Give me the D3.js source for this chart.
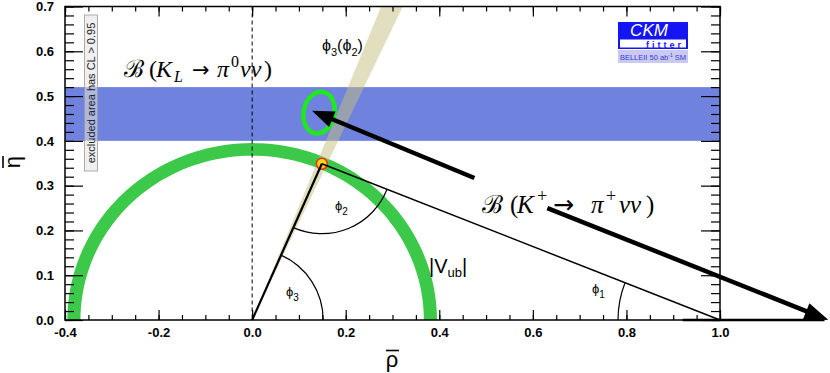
<!DOCTYPE html>
<html lang="en">
<head>
  <meta charset="UTF-8">
  <title>CKM fit - rho bar / eta bar plane</title>
  <script src="https://d3js.org/d3.v7.min.js"></script>
  <style>
    body { margin: 0; background: #fff; }
    svg { display: block; }
    .tick text { font-family: "Liberation Sans", Arial, sans-serif; font-weight: bold; font-size: 13px; fill: #000; }
    .tick line { stroke: #000; stroke-width: 1.2; }
    .axis path { display: none; }
  </style>
</head>
<body>
<div id="chart"></div>
<script>
// ---- data ----
const xTicksMajor = [-0.4, -0.2, 0.0, 0.2, 0.4, 0.6, 0.8, 1.0];
const yTicksMajor = [0.0, 0.1, 0.2, 0.3, 0.4, 0.5, 0.6, 0.7];
const xMinorStep = 0.05;
const yMinorStep = 0.02;

const klBand = [0.40, 0.52];            // eta range of B(K_L -> pi0 nu nu)
const vubRing = [0.367, 0.395];         // |Vub| ring radii
const phi3Band = [65.3, 68.5];          // phi3 wedge, degrees
const apex = [0.149, 0.349];            // (rho, eta) SM apex
const kplusCenter = [0.143, 0.463];     // B(K+ -> pi+ nu nu) ellipse centre
const kplusRadii = [0.033, 0.047];
const kplusTilt = 12;
const arrowKL = [[0.475, 0.317], [0.128, 0.467]];
const arrowKplus = [[0.631, 0.250], [1.232, 0.0]];
const baseExtension = [0.92, 1.232];

const W = 830, H = 373;
const x = d3.scaleLinear().domain([-0.4, 1.0]).range([65, 720]);
const y = d3.scaleLinear().domain([0, 0.7]).range([320, 6.5]);

const svg = d3.select("#chart").append("svg").attr("width", W).attr("height", H);

svg.append("defs").append("clipPath").attr("id", "plot")
  .append("rect").attr("x", x(-0.4)).attr("y", y(0.7))
  .attr("width", x(1.0) - x(-0.4)).attr("height", y(0) - y(0.7));

const plot = svg.append("g").attr("clip-path", "url(#plot)");

// K_L band
plot.append("rect")
  .attr("x", x(-0.4)).attr("width", x(1.0) - x(-0.4))
  .attr("y", y(klBand[1])).attr("height", y(klBand[0]) - y(klBand[1]))
  .attr("fill", "#6f83de");

// |Vub| ring
const angles = d3.range(0, 181, 2).map(a => a * Math.PI / 180);
const outer = angles.map(a => [vubRing[1] * Math.cos(a), vubRing[1] * Math.sin(a)]);
const inner = angles.slice().reverse().map(a => [vubRing[0] * Math.cos(a), vubRing[0] * Math.sin(a)]);
const poly = d3.line().x(d => x(d[0])).y(d => y(d[1]));
plot.append("path")
  .attr("d", poly(outer.concat(inner)) + "Z")
  .attr("fill", "#3cc94a");

// phi3 wedge
const wedge = [[0, 0],
  [0.7 / Math.tan(phi3Band[0] * Math.PI / 180), 0.7],
  [0.7 / Math.tan(phi3Band[1] * Math.PI / 180), 0.7]];
plot.append("path")
  .attr("d", poly(wedge) + "Z")
  .attr("fill", "#c4bf80").attr("opacity", 0.5);

// dashed rho = 0
plot.append("line")
  .attr("x1", x(0)).attr("x2", x(0)).attr("y1", y(0.7)).attr("y2", y(0))
  .attr("stroke", "#000").attr("stroke-width", 1).attr("stroke-dasharray", "4,3");

// K+ ellipse
plot.append("ellipse")
  .attr("cx", 0).attr("cy", 0)
  .attr("rx", x(kplusRadii[0]) - x(0)).attr("ry", y(0) - y(kplusRadii[1]))
  .attr("transform", `translate(${x(kplusCenter[0])},${y(kplusCenter[1])}) rotate(${kplusTilt})`)
  .attr("fill", "none").attr("stroke", "#1ee81e").attr("stroke-width", 4.5);

// apex dot
const O = [x(0), y(0)], A = [x(apex[0]), y(apex[1])], B = [x(1), y(0)];
svg.append("circle").attr("cx", A[0]).attr("cy", A[1]).attr("r", 5.5)
  .attr("fill", "#ffd21a").attr("stroke", "#e8301c").attr("stroke-width", 1.6);

// triangle sides
svg.append("line").attr("x1", O[0]).attr("y1", O[1]).attr("x2", A[0]).attr("y2", A[1])
  .attr("stroke", "#000").attr("stroke-width", 2.2);
svg.append("line").attr("x1", A[0]).attr("y1", A[1]).attr("x2", B[0]).attr("y2", B[1])
  .attr("stroke", "#000").attr("stroke-width", 1.5);

// angle arcs
function arcPath(c, r, a0, a1) {
  const p = d3.path();
  p.arc(c[0], c[1], r, a0, a1, false);
  return p.toString();
}
const ang = (from, to) => Math.atan2(to[1] - from[1], to[0] - from[0]);
svg.append("path").attr("d", arcPath(O, 71, ang(O, A), 0))
  .attr("fill", "none").attr("stroke", "#000").attr("stroke-width", 1.2);
svg.append("path").attr("d", arcPath(A, 70, ang(A, B), ang(A, O)))
  .attr("fill", "none").attr("stroke", "#000").attr("stroke-width", 1.2);
svg.append("path").attr("d", arcPath(B, 102, -Math.PI, ang(B, A)))
  .attr("fill", "none").attr("stroke", "#000").attr("stroke-width", 1.2);

// formula labels (drawn before arrows so the K+ arrow runs over its text)
const serif = "'Liberation Serif', 'DejaVu Serif', serif";
const sans = "'Liberation Sans', Arial, sans-serif";
function addSpans(t, parts) {
  parts.forEach(p => {
    const s = t.append("tspan").text(p.t);
    if (p.x !== undefined) s.attr("x", p.x);
    if (p.i) s.style("font-style", "italic");
    if (p.s) s.style("font-size", p.s + "px");
    if (p.f) s.style("font-family", p.f);
    if (p.dy) s.attr("dy", p.dy);
  });
}
const arrowFont = "'DejaVu Sans', sans-serif";
const kl = svg.append("text").attr("y", 77)
  .style("font-family", serif).style("font-size", "24px");
addSpans(kl, [{t: "ℬ", x: 124}, {t: "(", x: 149}, {t: "K", i: 1, x: 156}, {t: "L", i: 1, s: 16, dy: 5, x: 174},
  {t: "→", dy: -5, x: 192, f: arrowFont, s: 21}, {t: "π", i: 1, x: 217}, {t: "0", s: 16, dy: -10, x: 231},
  {t: "νν", i: 1, dy: 10, x: 240}, {t: ")", x: 264}]);

const kp = svg.append("text").attr("y", 213)
  .style("font-family", serif).style("font-size", "25px");
addSpans(kp, [{t: "ℬ", x: 482}, {t: "(", x: 510}, {t: "K", i: 1, x: 517}, {t: "+", s: 18, dy: -11, x: 537},
  {t: "→", dy: 11, x: 553, f: arrowFont, s: 25}, {t: "π", i: 1, x: 591}, {t: "+", s: 18, dy: -11, x: 606},
  {t: "νν", i: 1, dy: 11, x: 619}, {t: ")", x: 646}]);

const p32 = svg.append("text").attr("x", 322).attr("y", 51)
  .style("font-family", sans).style("font-size", "16px");
addSpans(p32, [{t: "ϕ"}, {t: "3", s: 11, dy: 5}, {t: "(", dy: -5}, {t: "ϕ"}, {t: "2", s: 11, dy: 5}, {t: ")", dy: -5}]);

function phiLabel(px, py, n) {
  const t = svg.append("text").attr("x", px).attr("y", py)
    .style("font-family", sans).style("font-size", "13px");
  addSpans(t, [{t: "ϕ"}, {t: n, s: 10, dy: 5}]);
}
phiLabel(335, 210, "2");
phiLabel(286, 296, "3");
phiLabel(592, 293, "1");

const vub = svg.append("text").attr("x", 429).attr("y", 273)
  .style("font-family", sans).style("font-size", "20px");
addSpans(vub, [{t: "|V"}, {t: "ub", s: 13, dy: 4}, {t: "|", dy: -4}]);

// arrows
function arrow(pts, len, wid) {
  const p0 = [x(pts[0][0]), y(pts[0][1])], p1 = [x(pts[1][0]), y(pts[1][1])];
  const dx = p1[0] - p0[0], dy = p1[1] - p0[1], d = Math.hypot(dx, dy);
  const ux = dx / d, uy = dy / d;
  svg.append("line")
    .attr("x1", p0[0]).attr("y1", p0[1])
    .attr("x2", p1[0] - ux * len * 0.7).attr("y2", p1[1] - uy * len * 0.7)
    .attr("stroke", "#000").attr("stroke-width", 4.5);
  const bx = p1[0] - ux * len, by = p1[1] - uy * len;
  svg.append("path")
    .attr("d", `M${p1[0]},${p1[1]}L${bx - uy * wid / 2},${by + ux * wid / 2}L${bx + uy * wid / 2},${by - ux * wid / 2}Z`)
    .attr("fill", "#000");
}
svg.append("line")
  .attr("x1", x(baseExtension[0])).attr("x2", x(baseExtension[1]) - 4)
  .attr("y1", y(0)).attr("y2", y(0))
  .attr("stroke", "#000").attr("stroke-width", 2.5);
arrow(arrowKL, 22, 17);
arrow(arrowKplus, 24, 17);

// axes
const xMinor = d3.range(-0.4, 1.0001, xMinorStep);
const yMinor = d3.range(0, 0.7001, yMinorStep);
const fmt = d => d.toFixed(1);

svg.append("g").attr("class", "axis").attr("transform", `translate(0,${y(0)})`)
  .call(d3.axisBottom(x).tickValues(xMinor).tickSize(-5).tickFormat(""));
svg.append("g").attr("class", "axis").attr("transform", `translate(0,${y(0)})`)
  .call(d3.axisBottom(x).tickValues(xTicksMajor).tickSize(-10).tickPadding(8).tickFormat(fmt));
svg.append("g").attr("class", "axis").attr("transform", `translate(0,${y(0.7)})`)
  .call(d3.axisTop(x).tickValues(xMinor).tickSize(-5).tickFormat(""));
svg.append("g").attr("class", "axis").attr("transform", `translate(0,${y(0.7)})`)
  .call(d3.axisTop(x).tickValues(xTicksMajor).tickSize(-10).tickFormat(""));

svg.append("g").attr("class", "axis").attr("transform", `translate(${x(-0.4)},0)`)
  .call(d3.axisLeft(y).tickValues(yMinor).tickSize(-9).tickFormat(""));
svg.append("g").attr("class", "axis").attr("transform", `translate(${x(-0.4)},0)`)
  .call(d3.axisLeft(y).tickValues(yTicksMajor).tickSize(-18).tickPadding(11).tickFormat(fmt));
svg.append("g").attr("class", "axis").attr("transform", `translate(${x(1.0)},0)`)
  .call(d3.axisRight(y).tickValues(yMinor).tickSize(-9).tickFormat(""));
svg.append("g").attr("class", "axis").attr("transform", `translate(${x(1.0)},0)`)
  .call(d3.axisRight(y).tickValues(yTicksMajor).tickSize(-19).tickFormat(""));

svg.append("rect")
  .attr("x", x(-0.4)).attr("y", y(0.7))
  .attr("width", x(1.0) - x(-0.4)).attr("height", y(0) - y(0.7))
  .attr("fill", "none").attr("stroke", "#000").attr("stroke-width", 1.5);

// axis titles with over-bars
svg.append("text").attr("x", 392).attr("y", 367).attr("text-anchor", "middle")
  .style("font-family", sans).style("font-size", "22px")
  .text("ρ");
svg.append("line").attr("x1", 386).attr("x2", 399).attr("y1", 350.5).attr("y2", 350.5)
  .attr("stroke", "#000").attr("stroke-width", 1.6);
const etaG = svg.append("g").attr("transform", "translate(20,162) rotate(-90)");
etaG.append("text").attr("x", 0).attr("y", 0).attr("text-anchor", "middle")
  .style("font-family", sans).style("font-size", "22px")
  .text("η");
etaG.append("line").attr("x1", -6).attr("x2", 6).attr("y1", -17).attr("y2", -17)
  .attr("stroke", "#000").attr("stroke-width", 1.6);

// excluded area note
svg.append("rect").attr("x", 84.5).attr("y", 15).attr("width", 13).attr("height", 156)
  .attr("fill", "#e4e4e4").attr("fill-opacity", 0.55).attr("stroke", "#9a9a9a").attr("stroke-width", 0.8);
svg.append("text").attr("transform", "translate(91,93) rotate(-90)")
  .attr("text-anchor", "middle").attr("dy", "0.35em")
  .style("font-family", sans).style("font-size", "11px").style("fill", "#222")
  .text("excluded area has CL > 0.95");

// CKMfitter logo
const logo = svg.append("g");
logo.append("rect").attr("x", 618).attr("y", 22).attr("width", 70).attr("height", 27)
  .attr("fill", "#1414f5");
logo.append("rect").attr("x", 620).attr("y", 39.5).attr("width", 66).attr("height", 8)
  .attr("fill", "#fff");
logo.append("text").attr("x", 649).attr("y", 36).attr("text-anchor", "middle")
  .style("font-family", sans).style("font-style", "italic").style("font-size", "17px")
  .style("fill", "#fff").text("CKM");
logo.append("text").attr("x", 665).attr("y", 47.5).attr("text-anchor", "middle")
  .style("font-family", sans).style("font-weight", "bold").style("font-size", "9px")
  .style("letter-spacing", "3px").style("fill", "#1414f5").text("fitter");
logo.append("rect").attr("x", 618).attr("y", 50).attr("width", 70).attr("height", 13)
  .attr("fill", "#c9c9f2");
const bl = logo.append("text").attr("x", 653).attr("y", 59.5).attr("text-anchor", "middle")
  .style("font-family", sans).style("font-size", "7.5px").style("fill", "#3a3ad0");
addSpans(bl, [{t: "BELLEII 50 ab"}, {t: "-1", s: 5, dy: -3}, {t: " SM", dy: 3}]);
</script>
</body>
</html>
